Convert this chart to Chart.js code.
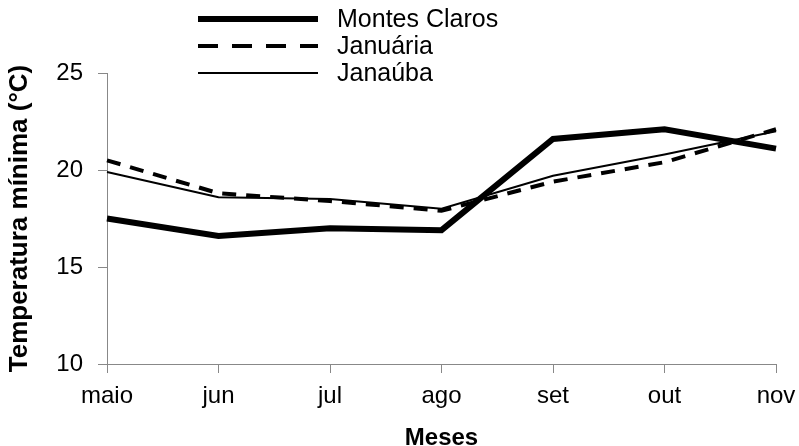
<!DOCTYPE html>
<html>
<head>
<meta charset="utf-8">
<script src="https://cdn.jsdelivr.net/npm/chart.js@4.4.1/dist/chart.umd.min.js"></script>
<style>
html,body{margin:0;padding:0;background:#fff;}
#c{display:block;}
</style>
</head>
<body>
<canvas id="c" width="799" height="446"></canvas>
<script>
const months = ["maio", "jun", "jul", "ago", "set", "out", "nov"];
const montesClaros = [17.5, 16.6, 17.0, 16.9, 21.6, 22.1, 21.1];
const januaria = [20.5, 18.8, 18.4, 17.9, 19.4, 20.4, 22.1];
const janauba = [19.9, 18.6, 18.5, 18.0, 19.7, 20.8, 22.0];
const yTicks = [10, 15, 20, 25];

const FONT = "'Liberation Sans', Arial, sans-serif";

const legendPlugin = {
  id: 'stackedLegend',
  afterDraw(chart) {
    const ctx = chart.ctx;
    const x0 = 198, x1 = 318, tx = 337;
    const rows = [19, 46, 73];
    chart.data.datasets.forEach((ds, i) => {
      const y = rows[i];
      ctx.save();
      ctx.strokeStyle = ds.borderColor;
      ctx.lineWidth = ds.borderWidth;
      ctx.setLineDash(ds.legendDash || []);
      ctx.beginPath();
      ctx.moveTo(x0, y);
      ctx.lineTo(x1, y);
      ctx.stroke();
      ctx.setLineDash([]);
      ctx.fillStyle = '#000';
      ctx.font = "25px " + FONT;
      ctx.textBaseline = 'middle';
      ctx.textAlign = 'left';
      ctx.fillText(ds.label, tx, y + 1);
      ctx.restore();
    });
  }
};

new Chart(document.getElementById('c'), {
  type: 'line',
  data: {
    labels: months,
    datasets: [
      { label: 'Montes Claros', data: montesClaros, borderColor: '#000', borderWidth: 6, pointRadius: 0, fill: false, tension: 0, legendDash: [] },
      { label: 'Januária', data: januaria, borderColor: '#000', borderWidth: 4, borderDash: [14, 10], pointRadius: 0, fill: false, tension: 0, legendDash: [20, 14] },
      { label: 'Janaúba', data: janauba, borderColor: '#000', borderWidth: 2, pointRadius: 0, fill: false, tension: 0, legendDash: [] }
    ]
  },
  options: {
    responsive: false,
    animation: false,
    layout: { padding: { left: 0, right: 23, top: 73, bottom: 0 } },
    plugins: { legend: { display: false }, tooltip: { enabled: false } },
    scales: {
      x: {
        offset: false,
        grid: { display: true, drawOnChartArea: false, drawTicks: true, tickLength: 9, color: '#888' },
        border: { display: true, color: '#888', width: 1 },
        ticks: { color: '#000', font: { family: FONT, size: 24 }, padding: 9, maxRotation: 0, autoSkip: false },
        title: { display: true, text: 'Meses', color: '#000', font: { family: FONT, size: 24, weight: 'bold', lineHeight: 1 }, padding: { top: 0, bottom: -4 } },
        afterFit(scale) { scale.height = 82; scale.paddingRight = 0; scale.paddingLeft = 0; }
      },
      y: {
        min: 10, max: 25,
        afterBuildTicks(scale) { scale.ticks = yTicks.map(v => ({ value: v })); },
        grid: { display: true, drawOnChartArea: false, drawTicks: true, tickLength: 9, color: '#888' },
        border: { display: true, color: '#888', width: 1 },
        ticks: { color: '#000', font: { family: FONT, size: 24 }, padding: 15 },
        title: { display: true, text: 'Temperatura mínima (°C)', color: '#000', font: { family: FONT, size: 26, weight: 'bold', lineHeight: 1.2 }, padding: { top: 4, bottom: 0 } },
        afterFit(scale) { scale.width = 107; }
      }
    }
  },
  plugins: [legendPlugin]
});
</script>
</body>
</html>
